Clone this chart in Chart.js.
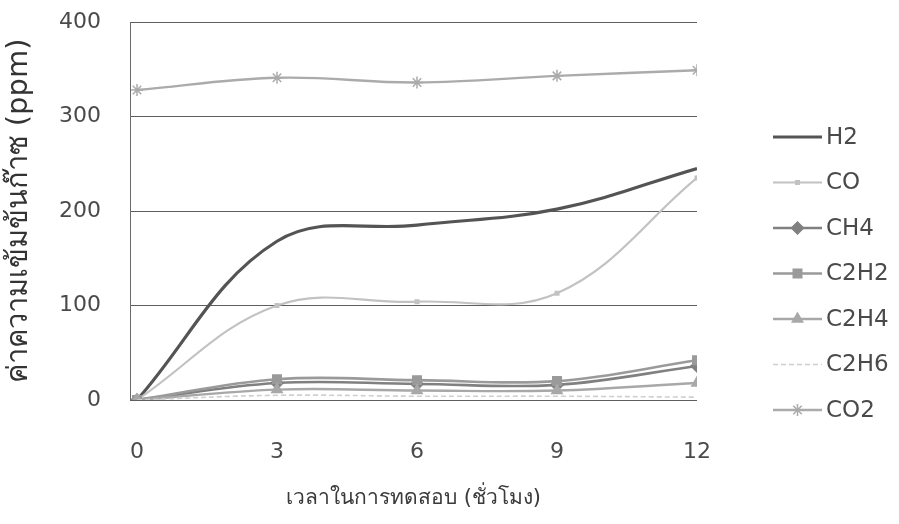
<!DOCTYPE html>
<html>
<head>
<meta charset="utf-8">
<script src="https://cdn.jsdelivr.net/npm/chart.js@4.4.1/dist/chart.umd.min.js"></script>
<style>
  html, body { margin: 0; padding: 0; background: #ffffff; }
  #wrap { width: 899px; height: 524px; position: relative; }
</style>
</head>
<body>
<div id="wrap"><canvas id="gas"></canvas></div>
<script>
// Test hours and gas concentrations (ppm)
const hours = [0, 3, 6, 9, 12];
const h2   = [0, 168, 185, 202, 245];
const co   = [0, 100, 104, 113, 235];
const ch4  = [0, 18, 17, 16, 36];
const c2h2 = [0, 22, 21, 20, 42];
const c2h4 = [0, 11, 10, 10, 18];
const c2h6 = [0, 5, 4, 4, 3];
const co2  = [328, 341, 336, 343, 349];

const seriesNames = ['H2', 'CO', 'CH4', 'C2H2', 'C2H4', 'C2H6', 'CO2'];
const xTickValues = [0, 3, 6, 9, 12];
const yTickValues = [0, 100, 200, 300, 400];

const xTitle = 'เวลาในการทดสอบ (ชั่วโมง)';
const yTitle = 'ค่าความเข้มข้นก๊าซ (ppm)';

const textFont = "'DejaVu Sans', 'Noto Sans', sans-serif";
const textColor = '#4a4a4a';

const pts = vals => hours.map((h, i) => ({ x: h, y: vals[i] }));

const styles = [
  { color: '#545454', width: 3.2, point: false },
  { color: '#c2c2c2', width: 2.2, point: 'rect', r: 2.5 },
  { color: '#808080', width: 2.6, point: 'rectRot', r: 6 },
  { color: '#9a9a9a', width: 2.6, point: 'rect', r: 6 },
  { color: '#a8a8a8', width: 2.4, point: 'triangle', r: 6 },
  { color: '#cfcfcf', width: 1.6, point: false, dash: [5, 3] },
  { color: '#ababab', width: 2.4, point: 'star', r: 6 }
];
const values = [h2, co, ch4, c2h2, c2h4, c2h6, co2];

const datasets = values.map((v, i) => {
  const s = styles[i];
  return {
    label: seriesNames[i],
    data: pts(v),
    borderColor: s.color,
    backgroundColor: s.color,
    borderWidth: s.width,
    borderDash: s.dash || [],
    tension: 0.38,
    pointStyle: s.point || 'circle',
    pointRadius: s.point ? s.r : 0,
    pointBorderWidth: 1.5,
    pointBackgroundColor: s.color,
    pointBorderColor: s.color,
    order: 7 - i
  };
});

// Key on the right: a short line with the series marker, then its name
const sideKey = {
  id: 'sideKey',
  afterDraw(chart) {
    const ctx = chart.ctx;
    const x0 = 773, x1 = 822, top = 137, step = 45.5;
    chart.data.datasets.forEach((ds, i) => {
      const y = top + i * step;
      ctx.save();
      ctx.strokeStyle = ds.borderColor;
      ctx.lineWidth = ds.borderWidth;
      ctx.setLineDash(ds.borderDash || []);
      ctx.beginPath();
      ctx.moveTo(x0, y);
      ctx.lineTo(x1, y);
      ctx.stroke();
      ctx.setLineDash([]);
      if (ds.pointRadius > 0) {
        ctx.fillStyle = ds.pointBackgroundColor;
        ctx.strokeStyle = ds.pointBorderColor;
        ctx.lineWidth = ds.pointBorderWidth;
        Chart.helpers.drawPoint(ctx, {
          pointStyle: ds.pointStyle,
          radius: ds.pointRadius,
          rotation: 0,
          borderWidth: ds.pointBorderWidth
        }, (x0 + x1) / 2, y);
      }
      ctx.fillStyle = textColor;
      ctx.font = "23px " + textFont;
      ctx.textBaseline = 'middle';
      ctx.textAlign = 'left';
      ctx.fillText(ds.label, 826, y + 1);
      ctx.restore();
    });
  }
};

new Chart(document.getElementById('gas'), {
  type: 'line',
  data: { datasets },
  plugins: [sideKey],
  options: {
    responsive: true,
    maintainAspectRatio: false,
    animation: false,
    layout: { padding: { left: 2, right: 202, top: 22, bottom: 0 } },
    plugins: { legend: { display: false }, tooltip: { enabled: false } },
    elements: { line: { fill: false } },
    scales: {
      x: {
        type: 'linear',
        min: -0.15,
        max: 12,
        afterBuildTicks: s => { s.ticks = xTickValues.map(v => ({ value: v })); },
        afterFit: s => { s.height = 124; s.paddingLeft = 0; s.paddingRight = 0; },
        grid: { display: false, drawTicks: false },
        border: { display: false },
        ticks: { padding: 39, color: textColor, font: { family: textFont, size: 22 } },
        title: {
          display: true, text: xTitle, color: '#3a3a3a',
          font: { family: textFont, size: 21 },
          padding: { top: 0, bottom: 13 }
        }
      },
      y: {
        type: 'linear',
        min: 0,
        max: 400,
        afterBuildTicks: s => { s.ticks = yTickValues.map(v => ({ value: v })); },
        afterFit: s => { s.width = 128; s.paddingTop = 0; s.paddingBottom = 0; },
        grid: { color: '#5e5e5e', lineWidth: 1, drawTicks: false },
        border: { display: true, color: '#6a6a6a', width: 1 },
        ticks: { padding: 29, color: textColor, font: { family: textFont, size: 22 } },
        title: {
          display: true, text: yTitle, color: '#333333',
          font: { family: textFont, size: 29 },
          padding: { top: 0, bottom: 0 }
        }
      }
    }
  }
});
</script>
</body>
</html>
